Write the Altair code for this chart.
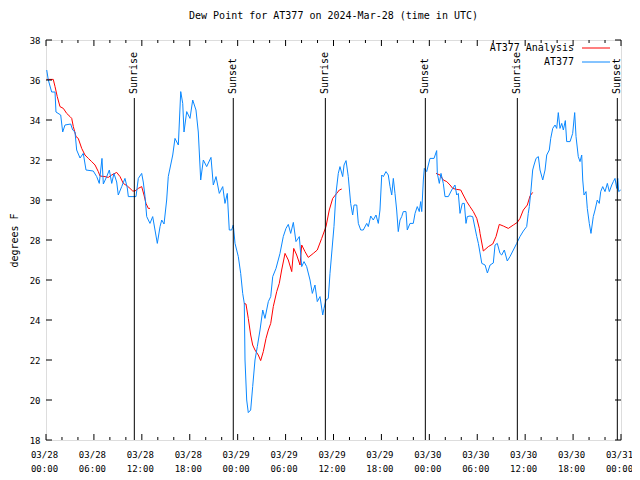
import altair as alt
import pandas as pd

# ---------------- data (hours since 2024-03-28 00:00 UTC, degrees F) ----------------
BLUE_H = [0.09, 0.29, 0.71, 1.13, 1.25, 1.84, 2.09, 2.38, 3.09, 3.34, 3.63, 3.84, 4.26, 4.67, 5.01,
          5.92, 6.35, 6.67, 7.01, 7.18, 7.60, 7.93, 8.23, 8.51, 8.85, 9.05, 9.48, 9.89, 10.18, 10.31,
          11.27, 11.56, 11.98, 12.18, 12.40, 12.61, 13.02, 13.36, 13.65, 13.94, 14.28, 14.49, 14.78,
          15.11, 15.31, 15.87, 16.15, 16.57, 16.87, 17.12, 17.28, 17.62, 18.03, 18.37, 18.78, 19.07,
          19.37, 19.70, 20.12, 20.66, 20.95, 21.29, 21.70, 22.13, 22.41, 22.70, 22.95, 23.25, 23.45,
          23.67, 24.08, 24.38, 24.63, 24.83, 24.92, 25.13, 25.33, 25.63, 25.88, 26.17, 26.46, 26.80,
          27.14, 27.42, 27.84, 28.14, 28.39, 28.80, 29.30, 29.71, 30.05, 30.34, 30.64, 30.97, 31.30,
          31.72, 32.02, 32.31, 32.64, 33.06, 33.35, 33.68, 33.97, 34.31, 34.65, 34.81, 35.06, 35.35,
          35.56, 35.81, 36.06, 36.31, 36.60, 36.81, 37.15, 37.32, 37.57, 37.85, 38.15, 38.40, 38.57,
          38.91, 39.11, 39.41, 39.73, 40.16, 40.36, 40.66, 40.98, 41.32, 41.61, 41.82, 42.04, 42.24,
          42.57, 42.86, 43.08, 43.29, 43.49, 43.70, 43.91, 44.11, 44.33, 44.54, 44.74, 45.08, 45.24,
          45.58, 45.99, 46.21, 46.49, 46.74, 46.92, 47.05, 47.25, 47.37, 47.67, 48.08, 48.59, 48.92,
          49.00, 49.25, 49.46, 49.75, 49.96, 50.38, 50.80, 51.21, 51.43, 51.63, 51.84, 52.13, 52.38,
          52.59, 52.75, 53.09, 53.43, 53.72, 53.94, 54.14, 54.57, 54.98, 55.27, 55.61, 56.01, 56.23,
          56.51, 56.85, 57.06, 57.39, 57.76, 58.10, 58.52, 58.94, 59.35, 59.77, 60.19, 60.39, 60.52,
          60.73, 60.94, 61.11, 61.36, 61.65, 61.86, 62.20, 62.49, 62.70, 63.02, 63.20, 63.45, 63.74,
          63.95, 64.15, 64.36, 64.58, 64.78, 65.03, 65.20, 65.62, 65.95, 66.20, 66.37, 66.65, 66.87,
          67.08, 67.21, 67.37, 67.62, 67.78, 68.03, 68.24, 68.53, 68.75, 69.03, 69.28, 69.46, 69.71,
          70.00, 70.29, 70.54, 70.84, 71.04, 71.25, 71.46, 71.59, 71.71, 71.96]
BLUE_V = [36.5, 36.0, 35.4, 35.4, 34.4, 34.25, 33.4, 33.75, 33.8, 33.5, 33.4, 32.5, 32.1, 32.33, 31.5,
          31.45, 31.17, 30.83, 32.08, 30.8, 31.17, 31.5, 30.83, 31.33, 30.9, 30.25, 30.67, 31.08, 30.6, 30.17,
          30.17, 31.08, 31.33, 30.9, 30.17, 29.17, 28.83, 29.17, 28.5, 27.83, 28.67, 29.0, 28.8,
          30.0, 31.17, 32.25, 33.08, 32.75, 35.42, 34.83, 33.4, 34.42, 34.08, 35.0, 34.5, 33.4,
          31.0, 32.0, 31.67, 32.13, 30.75, 31.17, 30.33, 30.67, 29.83, 30.33, 28.5, 28.5, 28.75,
          27.83, 27.17, 26.33, 25.33, 24.83, 22.0, 20.0, 19.37, 19.5, 20.67, 22.0, 22.67, 23.5,
          24.5, 24.08, 24.92, 25.17, 26.17, 26.58, 27.33, 28.17, 28.58, 28.78, 28.33, 28.88, 27.92,
          28.17, 26.67, 26.92, 26.67, 26.0, 25.33, 25.75, 24.92, 25.17, 24.25, 24.58, 25.0, 25.08,
          26.33, 27.5, 28.67, 30.33, 31.33, 31.67, 31.17, 31.75, 31.97, 31.17, 29.83, 29.25, 29.75,
          29.75, 28.83, 28.5, 28.5, 28.83, 28.67, 29.2, 29.0, 29.25, 28.83, 29.5, 31.25, 31.17,
          31.42, 31.25, 30.67, 30.25, 31.08, 30.33, 29.5, 28.42, 29.0, 29.17, 29.42, 29.42, 28.5,
          28.83, 28.83, 29.33, 29.67, 29.42, 29.92, 29.42, 31.0, 31.58, 31.42, 32.08, 32.08, 32.47,
          31.33, 30.83, 31.33, 30.83, 30.17, 30.17, 30.5, 30.75, 30.25, 30.33, 29.33, 29.83, 29.83,
          28.83, 29.17, 29.2, 29.17, 28.6, 28.17, 27.83, 26.83, 26.75, 26.35, 26.75, 26.85, 27.75,
          27.83, 27.33, 27.25, 27.5, 26.95, 27.17, 27.5, 27.83, 28.17, 28.45, 28.67, 29.33, 29.67,
          30.5, 31.5, 31.75, 32.08, 32.17, 31.5, 31.0, 31.5, 32.25, 32.5, 33.08, 33.58, 33.75,
          33.58, 34.37, 33.58, 33.83, 33.5, 33.97, 32.92, 32.92, 33.33, 34.37, 33.17, 32.17, 31.92,
          32.25, 31.0, 30.25, 30.42, 29.58, 28.83, 28.33, 29.17, 29.5, 30.0, 29.83, 30.42, 30.67,
          30.42, 30.83, 30.42, 30.75, 30.92, 31.08, 30.58, 31.08, 30.42, 30.5]

RED_H = [0.09, 0.91, 1.13, 1.41, 1.75, 2.17, 2.59, 3.01, 3.22, 3.42, 3.76, 4.04, 4.47, 4.88, 5.30,
         5.72, 6.14, 6.55, 6.76, 7.39, 7.80, 8.23, 8.85, 9.27, 9.68, 10.18, 10.52, 10.86, 11.14,
         11.56, 11.98, 12.27, 12.52, 12.81, 13.02,
         24.79, 25.04, 25.33, 25.63, 25.88, 26.17, 26.58, 26.88, 27.21, 27.55, 27.84, 28.14, 28.46,
         28.89, 29.21, 29.51, 29.93, 30.34, 30.77, 31.02, 31.39, 31.81, 32.02, 32.43, 32.84, 33.47,
         33.97, 34.52, 35.06, 35.47, 35.90, 36.40, 36.73, 37.03,
         48.84, 49.34, 49.75, 50.18, 50.59, 50.93, 51.43, 51.93, 52.25, 52.68, 53.09, 53.51, 53.94,
         54.26, 54.35, 54.76, 55.39, 55.94, 56.35, 56.76, 57.26, 57.89, 58.52, 59.02, 59.35, 59.77,
         60.27, 60.61, 60.94]
RED_V = [36.03, 36.03, 35.67, 35.17, 34.67, 34.58, 34.33, 34.17, 34.08, 33.67, 33.17, 33.08, 32.58,
         32.25, 32.08, 31.92, 31.75, 31.42, 31.2, 31.17, 31.13, 31.25, 31.38, 31.17, 30.83, 30.7,
         30.58, 30.45, 30.45, 30.58, 30.67, 30.25, 29.83, 29.58, 29.58,
         24.83, 24.8, 24.08, 23.25, 22.75, 22.5, 22.25, 21.97, 22.42, 23.08, 23.5, 23.83, 24.67,
         25.42, 25.83, 26.5, 27.33, 27.0, 26.42, 27.58, 27.25, 26.75, 27.75, 27.42, 27.13, 27.33,
         27.5, 28.08, 28.67, 29.5, 30.08, 30.33, 30.5, 30.55,
         31.33, 31.25, 31.0, 30.92, 30.75, 30.58, 30.53, 30.5, 30.25, 29.92, 29.67, 29.42, 29.08,
         28.58, 28.33, 27.45, 27.67, 27.8, 28.17, 28.78, 28.7, 28.58, 28.75, 28.88, 29.08, 29.5,
         29.75, 30.2, 30.38]
RED_SEG = [1] * 35 + [2] * 34 + [3] * 29

SUN_LABELS = ["Sunrise", "Sunset", "Sunrise", "Sunset", "Sunrise", "Sunset"]
SUN_H = [11.06, 23.45, 34.98, 47.50, 59.02, 71.54]

SERIES = ["AT377 Analysis", "AT377"]
COLORS = ["#ff0000", "#0a88ff"]

Y_TICKS = list(range(18, 39, 2))
X_MAJOR = list(range(0, 73, 6))
X_MINOR = [h for h in range(0, 73, 2) if h % 6]

FONT = "DejaVu Sans Mono"
W, H = 575, 400

# ---------------- frames ----------------
blue_df = pd.DataFrame({"hour": BLUE_H, "v": BLUE_V})
red_df = pd.DataFrame({"hour": RED_H, "v": RED_V, "seg": RED_SEG})
sun_df = pd.DataFrame({"hour": SUN_H, "label": SUN_LABELS})
xmaj_df = pd.DataFrame({"hour": X_MAJOR})
xmin_df = pd.DataFrame({"hour": X_MINOR})
ytk_df = pd.DataFrame({"v": Y_TICKS})

xs = alt.Scale(domain=[0, 72], nice=False, zero=False)
ys = alt.Scale(domain=[18, 38], nice=False, zero=False)

label_expr = ("['03/' + (28 + floor(datum.value / 24)), "
              "(datum.value % 24 < 10 ? '0' : '') + (datum.value % 24) + ':00']")

x_axis = alt.Axis(values=X_MAJOR, labelExpr=label_expr, ticks=False, domain=False, grid=False,
                  title=None, labelFont=FONT, labelFontSize=9, labelPadding=10,
                  labelLineHeight=14, labelOffset=-2, labelColor="black", labelFlush=False,
                  labelOverlap=False)
y_axis = alt.Axis(values=Y_TICKS, format="d", ticks=False, domain=False, grid=False,
                  title="degrees F", titleFont=FONT, titleFontSize=10, titleFontWeight="normal",
                  titlePadding=10, titleColor="black", labelFont=FONT, labelFontSize=9,
                  labelPadding=6, labelColor="black", labelOverlap=False)


def X():
    return alt.X("hour:Q", scale=xs, axis=x_axis)


def Y():
    return alt.Y("v:Q", scale=ys, axis=y_axis)


red = alt.Chart(red_df).mark_line(color=COLORS[0], strokeWidth=1).encode(
    x=X(), y=Y(), detail="seg:N")
blue = alt.Chart(blue_df).mark_line(color=COLORS[1], strokeWidth=1).encode(x=X(), y=Y())

sun_rule = alt.Chart(sun_df).mark_rule(color="black", strokeWidth=1).encode(
    x=X(), y=alt.value(58), y2=alt.value(H))
sun_text = alt.Chart(sun_df).mark_text(angle=270, align="left", baseline="middle",
                                       font=FONT, fontSize=10, color="black").encode(
    x=X(), y=alt.value(54), text="label:N")

tick_layers = [
    alt.Chart(xmaj_df).mark_rule(color="black").encode(x=X(), y=alt.value(H), y2=alt.value(H - 6)),
    alt.Chart(xmaj_df).mark_rule(color="black").encode(x=X(), y=alt.value(0), y2=alt.value(6)),
    alt.Chart(xmin_df).mark_rule(color="black").encode(x=X(), y=alt.value(H), y2=alt.value(H - 3)),
    alt.Chart(xmin_df).mark_rule(color="black").encode(x=X(), y=alt.value(0), y2=alt.value(3)),
    alt.Chart(ytk_df).mark_rule(color="black").encode(y=Y(), x=alt.value(0), x2=alt.value(6)),
    alt.Chart(ytk_df).mark_rule(color="black").encode(y=Y(), x=alt.value(W), x2=alt.value(W - 6)),
]

legend_layers = []
for i, (name, col) in enumerate(zip(SERIES, COLORS)):
    ldf = pd.DataFrame({"name": [name]})
    legend_layers.append(alt.Chart(ldf).mark_text(align="right", baseline="middle", font=FONT,
                                                  fontSize=10, color="black").encode(
        text="name:N", x=alt.value(528), y=alt.value(8 + 14 * i)))
    legend_layers.append(alt.Chart(ldf).mark_rule(color=col, strokeWidth=1).encode(
        x=alt.value(536), x2=alt.value(564), y=alt.value(8 + 14 * i)))

chart = alt.layer(red, blue, sun_rule, sun_text, *tick_layers, *legend_layers).properties(
    width=W, height=H,
    title=alt.TitleParams("Dew Point for AT377 on 2024-Mar-28 (time in UTC)", font=FONT,
                          fontSize=10, fontWeight="normal", color="black", offset=15,
                          anchor="middle"),
    padding={"left": 38, "top": 32, "right": 11, "bottom": 32},
    autosize=alt.AutoSizeParams(type="none"),
).configure_view(stroke="black", strokeWidth=1).configure(background="white")

chart.save("out.html", embed_options={"renderer": "svg", "actions": False})
